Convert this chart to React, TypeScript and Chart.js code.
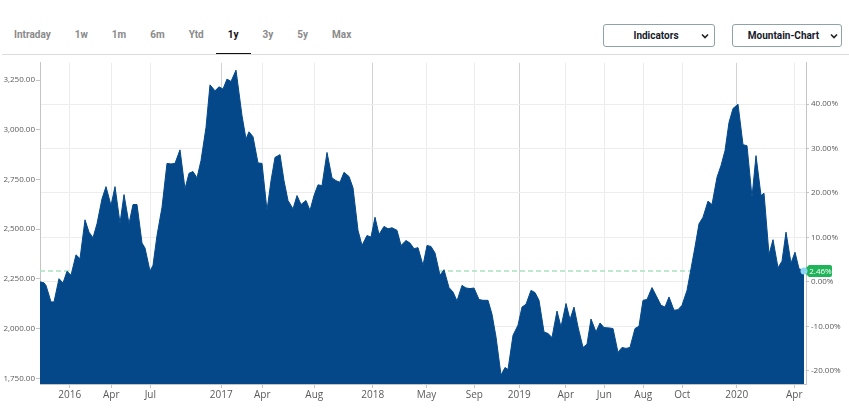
import React, { useEffect, useRef } from 'react';
import { Chart, registerables } from 'chart.js';

Chart.register(...registerables);

// ---- Data ----
const sessionIndex = [
  0, 4, 6, 11, 14, 19, 23, 27, 31, 36, 40, 45, 49, 53, 57, 62, 66, 71, 75, 80, 84, 89, 93, 97,
  102, 105, 110, 113, 117, 122, 127, 131, 135, 140, 145, 149, 153, 157, 161, 166, 170, 175, 179, 183,
  187, 191, 196, 202, 206, 209, 213, 218, 222, 227, 231, 235, 240, 244, 248, 253, 257, 261, 266, 270,
  274, 278, 282, 287, 292, 296, 300, 304, 309, 313, 318, 322, 327, 331, 335, 339, 344, 348, 352, 357,
  361, 366, 370, 374, 378, 383, 387, 391, 395, 400, 404, 409, 413, 417, 422, 426, 430, 434, 439, 443,
  448, 452, 456, 461, 465, 468, 473, 478, 482, 486, 491, 495, 499, 504, 508, 512, 517, 521, 526, 530,
  534, 538, 543, 547, 551, 556, 560, 564, 569, 573, 578, 582, 586, 590, 595, 599, 603, 607, 612, 616,
  621, 625, 629, 634, 638, 642, 647, 651, 655, 659, 663, 668, 672, 677, 681, 685, 689, 693, 698, 703,
  707, 712, 716, 721, 724, 729, 733, 738, 742, 746, 751, 755, 759, 764,
];
const closeValues = [
  2235, 2230, 2217, 2134, 2134, 2251, 2229, 2288, 2268, 2371, 2351, 2547, 2485, 2457, 2527, 2653, 2714, 2619, 2714, 2530, 2674, 2527, 2624, 2624,
  2430, 2405, 2289, 2318, 2468, 2610, 2831, 2828, 2831, 2899, 2703, 2781, 2790, 2758, 2845, 3012, 3226, 3196, 3216, 3205,
  3255, 3243, 3300, 3071, 2954, 2990, 2965, 2833, 2831, 2594, 2744, 2861, 2875, 2744, 2644, 2602, 2669, 2624, 2644, 2594,
  2669, 2723, 2719, 2886, 2758, 2744, 2736, 2786, 2765, 2708, 2494, 2418, 2468, 2460, 2560, 2473, 2514, 2502, 2507, 2494,
  2418, 2443, 2430, 2402, 2407, 2318, 2418, 2413, 2380, 2268, 2296, 2206, 2184, 2139, 2217, 2204, 2201, 2204, 2146, 2142,
  2142, 2072, 1958, 1766, 1804, 1794, 1966, 2017, 2108, 2122, 2192, 2181, 2142, 1983, 1975, 1955, 2088, 2008, 2126, 2045,
  2108, 2008, 1905, 1921, 2048, 1983, 2028, 2005, 2003, 2000, 1880, 1905, 1900, 1905, 2000, 2012, 2142, 2146, 2206, 2167,
  2117, 2108, 2159, 2092, 2095, 2117, 2192, 2301, 2410, 2527, 2560, 2641, 2624, 2761, 2820, 2895, 3037, 3107, 3129, 2925,
  2920, 2661, 2870, 2669, 2681, 2373, 2447, 2306, 2339, 2485, 2329, 2384, 2301, 2290,
];

const xTickPositions = [29.7, 71.3, 110.3, 181.3, 222.3, 274.3, 332.7, 386.5, 434.3, 479.3, 525.7, 564.3, 603.3, 642.3, 696.7, 754.3];
const xTickLabels = ['2016', 'Apr', 'Jul', '2017', 'Apr', 'Aug', '2018', 'May', 'Sep', '2019', 'Apr', 'Jun', 'Aug', 'Oct', '2020', 'Apr'];
const xMajorTicks = ['2017', '2018', '2019', '2020'];
const priceTicks = [1750, 2000, 2250, 2500, 2750, 3000, 3250];
const percentTicks = [-20, -10, 0, 10, 20, 30, 40];
const periodTabs = ['Intraday', '1w', '1m', '6m', 'Ytd', '1y', '3y', '5y', 'Max'];
const activeTab = '1y';
const dropdowns = ['Indicators', 'Mountain-Chart'];

const xMax = 766;
const priceMin = 1721;
const priceMax = 3337;

const AREA = '#04488a';
const AXIS = '#c4c4c4';
const LABEL = '#5a5a5a';

function Chevron() {
  return (
    <svg width="8" height="6" viewBox="0 0 8 6" style={{ display: 'block' }}>
      <polyline points="1,1.5 4,4.5 7,1.5" fill="none" stroke="#222" strokeWidth="1.6" />
    </svg>
  );
}

export default function App() {
  const canvasRef = useRef<HTMLCanvasElement | null>(null);

  useEffect(() => {
    if (!canvasRef.current) return;
    const n = closeValues.length;
    const base = closeValues[0];
    const last = closeValues[n - 1];
    const toPct = (v: number) => (v / base - 1) * 100;
    const points = sessionIndex.map((x, i) => ({ x, y: closeValues[i] }));

    const badgePlugin = {
      id: 'lastBadge',
      beforeDatasetsDraw(chart: any) {
        const ctx = chart.ctx;
        const y = chart.scales.y.getPixelForValue(last);
        const xr = chart.chartArea.right;
        const h = 6;
        const w = 26;
        ctx.save();
        ctx.fillStyle = '#1fb45a';
        ctx.beginPath();
        ctx.moveTo(xr - 3, y);
        ctx.lineTo(xr + 3, y - h);
        ctx.lineTo(xr + w - 2, y - h);
        ctx.quadraticCurveTo(xr + w, y - h, xr + w, y - h + 2);
        ctx.lineTo(xr + w, y + h - 2);
        ctx.quadraticCurveTo(xr + w, y + h, xr + w - 2, y + h);
        ctx.lineTo(xr + 3, y + h);
        ctx.closePath();
        ctx.fill();
        ctx.fillStyle = '#ffffff';
        ctx.font = '8px "Open Sans"';
        ctx.textAlign = 'center';
        ctx.textBaseline = 'middle';
        ctx.fillText(toPct(last).toFixed(2) + '%', xr + 14.5, y + 0.5);
        ctx.restore();
      },
    };

    const chart = new Chart(canvasRef.current, {
      type: 'line',
      data: {
        datasets: [
          {
            data: points,
            yAxisID: 'y',
            fill: 'start',
            backgroundColor: AREA,
            borderColor: AREA,
            borderWidth: 1,
            tension: 0,
            clip: false as any,
            order: 1,
            pointRadius: (c: any) => (c.dataIndex === n - 1 ? 3.5 : 0),
            pointBackgroundColor: '#8fd4f4',
            pointBorderWidth: 0,
          },
          {
            data: [
              { x: 0, y: last },
              { x: sessionIndex[n - 1], y: last },
            ],
            yAxisID: 'y',
            fill: false,
            borderColor: '#a8e2c2',
            borderWidth: 1.5,
            borderDash: [5, 3],
            pointRadius: 0,
            order: 2,
          },
        ],
      },
      options: {
        animation: false,
        responsive: false,
        maintainAspectRatio: false,
        layout: { padding: { top: 6, left: 0, right: 0, bottom: 0 } },
        plugins: { legend: { display: false }, tooltip: { enabled: false } },
        scales: {
          x: {
            type: 'linear',
            min: 0,
            max: xMax,
            afterBuildTicks: (s: any) => {
              s.ticks = xTickPositions.map((v) => ({ value: v }));
            },
            afterFit: (s: any) => {
              s.height = 34;
            },
            ticks: {
              autoSkip: false,
              maxRotation: 0,
              padding: 1,
              color: LABEL,
              font: { family: '"Open Sans"', size: 10 },
              callback: (_v: any, i: number) => xTickLabels[i],
            },
            grid: {
              color: (c: any) => (xMajorTicks.includes(xTickLabels[c.index]) ? '#d2d2d2' : '#ececec'),
              tickLength: 4,
              tickColor: AXIS,
            },
            border: { color: AXIS },
          },
          y: {
            position: 'left',
            min: priceMin,
            max: priceMax,
            afterBuildTicks: (s: any) => {
              s.ticks = priceTicks.map((v) => ({ value: v }));
            },
            afterFit: (s: any) => {
              s.width = 40;
            },
            ticks: {
              padding: 1,
              color: LABEL,
              font: { family: '"Open Sans"', size: 8 },
              callback: (v: any) =>
                Number(v).toLocaleString('en-US', { minimumFractionDigits: 2, maximumFractionDigits: 2 }),
            },
            grid: { drawOnChartArea: false, tickLength: 4, tickColor: AXIS },
            border: { color: AXIS },
          },
          y2: {
            position: 'right',
            min: toPct(priceMin),
            max: toPct(priceMax),
            afterBuildTicks: (s: any) => {
              s.ticks = percentTicks.map((v) => ({ value: v }));
            },
            afterFit: (s: any) => {
              s.width = 43;
            },
            ticks: {
              padding: 2,
              color: LABEL,
              font: { family: '"Open Sans"', size: 8 },
              callback: (v: any) => Number(v).toFixed(2) + '%',
            },
            grid: { color: '#ededed', tickLength: 3, tickColor: AXIS },
            border: { color: AXIS },
          },
        },
      },
      plugins: [badgePlugin],
    } as any);

    return () => chart.destroy();
  }, []);

  return (
    <div
      style={{
        position: 'absolute',
        top: 0,
        left: 0,
        width: 849,
        height: 418,
        background: '#fff',
        fontFamily: 'Roboto, "Open Sans", sans-serif',
        overflow: 'hidden',
      }}
    >
      <div style={{ position: 'absolute', left: 2, top: 22, height: 32, display: 'flex', alignItems: 'stretch' }}>
        {periodTabs.map((t) => (
          <div
            key={t}
            style={{
              padding: '0 12px',
              fontSize: 10,
              fontWeight: 700,
              lineHeight: '26px',
              color: t === activeTab ? '#111' : '#8a8a8a',
              borderBottom: t === activeTab ? '2px solid #111' : '2px solid transparent',
              boxSizing: 'border-box',
              height: 33,
            }}
          >
            {t}
          </div>
        ))}
      </div>
      <div style={{ position: 'absolute', left: 2, right: 0, top: 54, height: 1, background: '#dcdcdc' }} />
      {dropdowns.map((d, i) => (
        <div
          key={d}
          style={{
            position: 'absolute',
            left: i === 0 ? 603 : 732,
            top: 24,
            width: i === 0 ? 112 : 110,
            height: 23,
            boxSizing: 'border-box',
            border: '1px solid #8fa2a6',
            borderRadius: 3,
            display: 'flex',
            alignItems: 'center',
            justifyContent: 'center',
            paddingRight: i === 0 ? 6 : 7,
            fontSize: 10,
            fontWeight: 700,
            color: '#161a2a',
          }}
        >
          <span>{d}</span>
          <div style={{ position: 'absolute', right: i === 0 ? 5 : 3, top: 8 }}>
            <Chevron />
          </div>
        </div>
      ))}
      <canvas
        ref={canvasRef}
        width={849}
        height={362}
        style={{ position: 'absolute', left: 0, top: 56, width: 849, height: 362 }}
      />
    </div>
  );
}
